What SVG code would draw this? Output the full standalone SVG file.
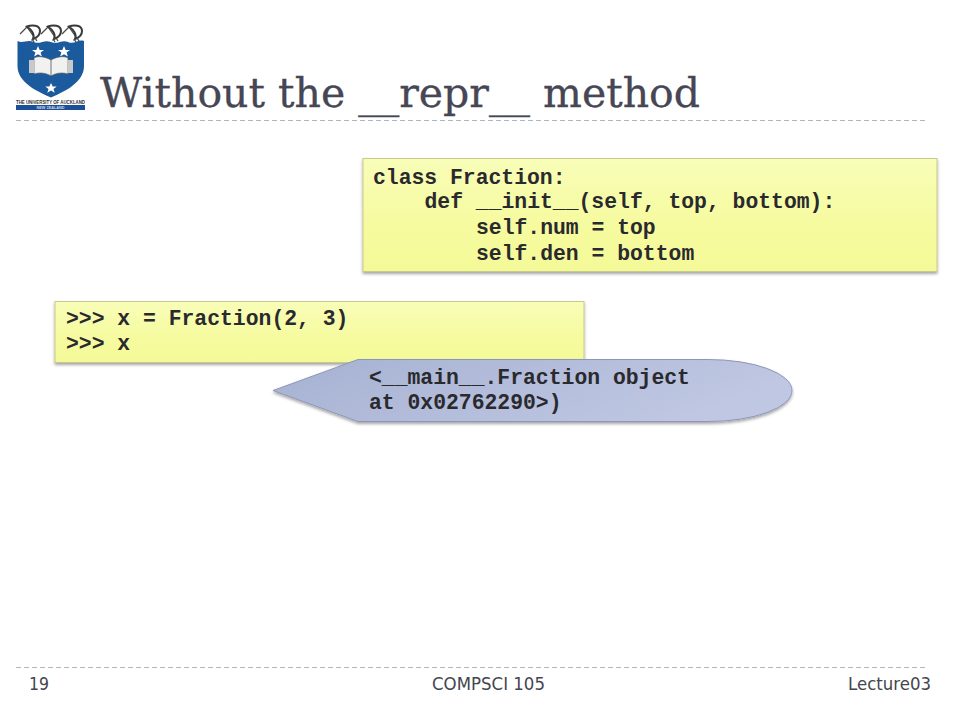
<svg xmlns="http://www.w3.org/2000/svg" width="960" height="720" viewBox="0 0 960 720">
<style>
.code{font-family:"Liberation Mono","Courier New",monospace;font-size:21.4px;font-weight:bold;fill:#2a2a2e;white-space:pre}
.foot{font-family:"DejaVu Sans",Verdana,sans-serif;font-size:17.5px;fill:#45454d}
.rule{stroke:#a9b9c4;stroke-width:1;stroke-dasharray:5 3;fill:none}
.box{stroke:#c9c98c;stroke-width:1}
.kiwi{fill:#fff;stroke:#3a3a3a;stroke-width:2}
.kiwi-line{fill:none;stroke:#4a4a4a;stroke-width:1.300}
</style>
<defs>
<linearGradient id="yel" x1="0" y1="0" x2="0" y2="1"><stop offset="0" stop-color="#f8fdb8"/><stop offset="0.6" stop-color="#f6fb9f"/><stop offset="1" stop-color="#f4f998"/></linearGradient>
<linearGradient id="blu" x1="0" y1="0" x2="1" y2="0.3"><stop offset="0" stop-color="#a6b1d2"/><stop offset="1" stop-color="#bfc7e2"/></linearGradient>
<filter id="sh" x="-5%" y="-10%" width="110%" height="125%"><feDropShadow dx="0" dy="2" stdDeviation="1.800" flood-color="#000" flood-opacity="0.35"/></filter>
<g id="k"><path class="kiwi-line" d="M0 9 L7 2 M7 2 L14 12"/><path class="kiwi" d="M7 1.500 C12 -0.500 20 0 20 6 C20 11 16 13 13 14 C15 10 12 5 7 1.500Z"/><path class="kiwi-line" d="M12 14 L14 17 M15 13 L17 16"/></g>
</defs>
<rect width="960" height="720" fill="#fff"/>
<g id="logo">
<use href="#k" x="20" y="25"/><use href="#k" x="41" y="25"/><use href="#k" x="62" y="25"/>
<path d="M17.500 41 C23 44 27 39 34 42 C40 45 44 39 51 42 C58 45 62 39 68 42 C74 45 78 39 84 41 L84 66 C84 82 66 91 51 97.500 C36 91 17.500 82 17.500 66Z" fill="#1b5a9c"/>
<path d="M51 60 C44 56 37 56 34 58 L34 74 C40 72 46 73 51 76 C56 73 62 72 68 74 L68 58 C65 56 58 56 51 60Z" fill="#f1f1ef" stroke="#555" stroke-width="0.6"/>
<path d="M29 60 H34 V73 H29Z M68 60 H73 V73 H68Z" fill="#c9c9c9"/>
<path d="M51 60V76" stroke="#555" stroke-width="0.8"/>
<path d="M38 46l1.700 4h4.300l-3.400 2.600 1.300 4-3.900-2.400-3.900 2.400 1.300-4-3.400-2.600h4.300z M64 46l1.700 4h4.300l-3.400 2.600 1.300 4-3.900-2.400-3.900 2.400 1.300-4-3.400-2.600h4.300z M51 83l1.700 3.500h4l-3.200 2.500 1.200 3.700-3.700-2.200-3.700 2.200 1.200-3.700-3.200-2.500h4z" fill="#fff"/>
<text x="50.500" y="104" text-anchor="middle" font-family="Liberation Sans,sans-serif" font-size="5" font-weight="bold" fill="#333" textLength="69" lengthAdjust="spacingAndGlyphs">THE UNIVERSITY OF AUCKLAND</text>
<rect x="16" y="105" width="69" height="5" fill="#1b4f97"/>
<text x="50.500" y="109.300" text-anchor="middle" font-family="Liberation Sans,sans-serif" font-size="3.800" font-weight="bold" fill="#cfd8ea">NEW ZEALAND</text>
</g>
<g id="title"><text x="100" y="106.500" font-family="DejaVu Serif,serif" font-size="41" fill="#464654" stroke="#464654" stroke-width="0.3" textLength="600" lengthAdjust="spacingAndGlyphs">Without the __repr__ method</text></g>
<line class="rule" x1="16" y1="120.500" x2="925" y2="120.500"/>
<g id="class-box">
<rect class="box" x="363" y="158.500" width="574" height="113" fill="url(#yel)" filter="url(#sh)"/>
<text class="code" x="373" y="184">class Fraction:</text>
<text class="code" x="424.500" y="208">def __init__(self, top, bottom):</text>
<text class="code" x="476" y="234">self.num = top</text>
<text class="code" x="476" y="260">self.den = bottom</text>
</g>
<g id="repl-box">
<rect class="box" x="55" y="301.500" width="529" height="61" fill="url(#yel)" filter="url(#sh)"/>
<text class="code" x="66" y="325">&gt;&gt;&gt; x = Fraction(2, 3)</text>
<text class="code" x="66" y="350">&gt;&gt;&gt; x</text>
</g>
<g id="callout">
<path d="M358 359.500 H708 A84 31 0 0 1 708 421.500 H358 L273 390.500Z" fill="url(#blu)" stroke="#8d97b8" stroke-width="1" filter="url(#sh)"/>
<text class="code" x="369" y="384">&lt;__main__.Fraction object</text>
<text class="code" x="369" y="409">at 0x02762290&gt;)</text>
</g>
<line class="rule" x1="16" y1="667.500" x2="925" y2="667.500"/>
<g id="footer">
<text class="foot" x="29" y="690" textLength="20" lengthAdjust="spacingAndGlyphs">19</text>
<text class="foot" x="432" y="690" textLength="113" lengthAdjust="spacingAndGlyphs">COMPSCI 105</text>
<text class="foot" x="848" y="690" textLength="83" lengthAdjust="spacingAndGlyphs">Lecture03</text>
</g>
</svg>
